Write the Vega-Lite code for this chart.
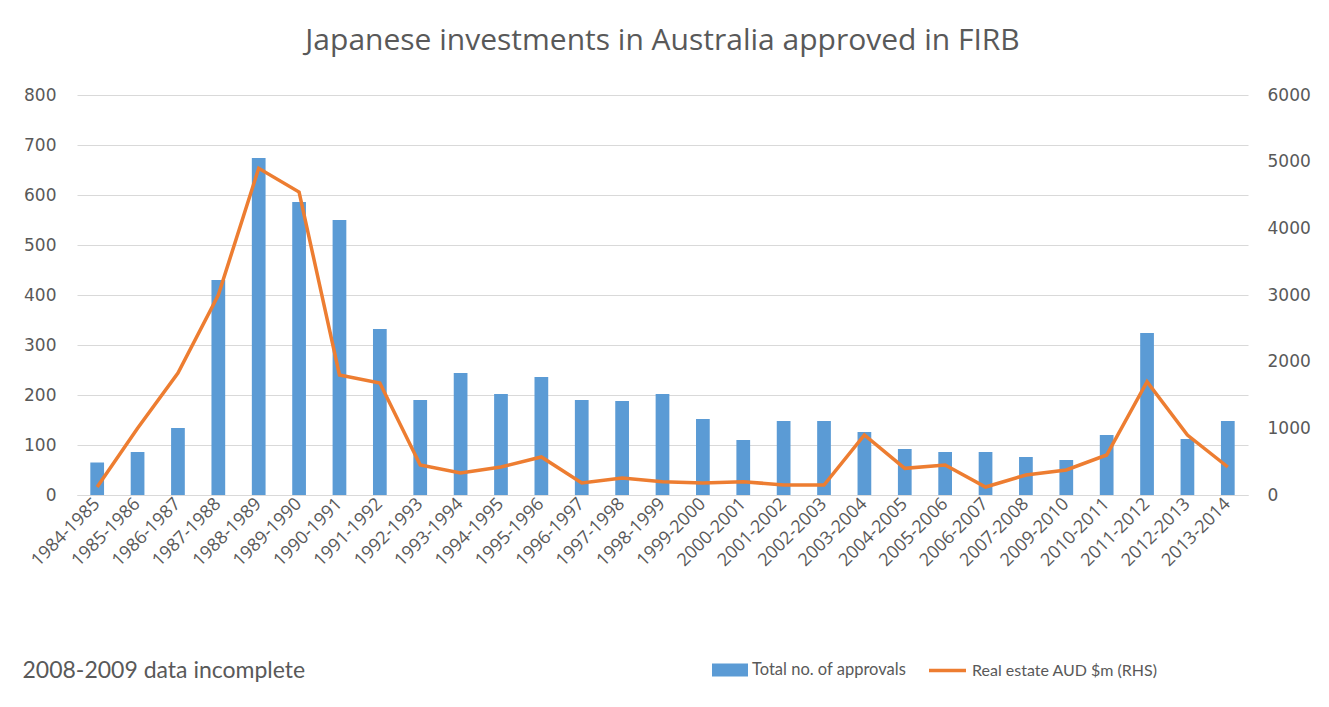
{
  "$schema": "https://vega.github.io/schema/vega-lite/v6.json",
  "autosize": "none",
  "width": 1171,
  "height": 400,
  "padding": {"left": 77, "top": 95, "right": 81, "bottom": 212},
  "background": "white",
  "title": {
    "text": "Japanese investments in Australia approved in FIRB",
    "font": "Open Sans",
    "fontSize": 30,
    "fontWeight": "normal",
    "color": "#595959",
    "anchor": "middle",
    "baseline": "alphabetic",
    "offset": 6
  },
  "config": {
    "view": {"stroke": null},
    "axis": {
      "labelFont": "DejaVu Sans",
      "labelColor": "#595959",
      "titleFont": "Lato",
      "titleColor": "#595959"
    },
    "legend": {
      "labelFont": "Lato",
      "labelFontSize": 16.5,
      "labelColor": "#595959",
      "labelLimit": 0
    }
  },
  "data": {
    "values": [
      {"period": "1984-1985", "approvals": 65, "realestate": 120},
      {"period": "1985-1986", "approvals": 86, "realestate": 1000},
      {"period": "1986-1987", "approvals": 134, "realestate": 1830},
      {"period": "1987-1988", "approvals": 430, "realestate": 3000},
      {"period": "1988-1989", "approvals": 674, "realestate": 4900},
      {"period": "1989-1990", "approvals": 586, "realestate": 4545},
      {"period": "1990-1991", "approvals": 550, "realestate": 1800},
      {"period": "1991-1992", "approvals": 332, "realestate": 1680},
      {"period": "1992-1993", "approvals": 190, "realestate": 450},
      {"period": "1993-1994", "approvals": 244, "realestate": 330},
      {"period": "1994-1995", "approvals": 202, "realestate": 420},
      {"period": "1995-1996", "approvals": 236, "realestate": 570},
      {"period": "1996-1997", "approvals": 190, "realestate": 180},
      {"period": "1997-1998", "approvals": 188, "realestate": 255},
      {"period": "1998-1999", "approvals": 202, "realestate": 200},
      {"period": "1999-2000", "approvals": 152, "realestate": 180},
      {"period": "2000-2001", "approvals": 110, "realestate": 200},
      {"period": "2001-2002", "approvals": 148, "realestate": 150},
      {"period": "2002-2003", "approvals": 148, "realestate": 150},
      {"period": "2003-2004", "approvals": 126, "realestate": 900},
      {"period": "2004-2005", "approvals": 92, "realestate": 400},
      {"period": "2005-2006", "approvals": 86, "realestate": 450},
      {"period": "2006-2007", "approvals": 86, "realestate": 120},
      {"period": "2007-2008", "approvals": 76, "realestate": 300},
      {"period": "2009-2010", "approvals": 70, "realestate": 375},
      {"period": "2010-2011", "approvals": 120, "realestate": 600},
      {"period": "2011-2012", "approvals": 324, "realestate": 1700},
      {"period": "2012-2013", "approvals": 112, "realestate": 900},
      {"period": "2013-2014", "approvals": 148, "realestate": 420}
    ]
  },
  "encoding": {
    "x": {
      "field": "period",
      "type": "nominal",
      "sort": null,
      "scale": {"paddingInner": 0.66, "paddingOuter": 0.33},
      "axis": {
        "title": "2008-2009 data incomplete",
        "titleAnchor": "start",
        "titleAlign": "left",
        "titleBaseline": "alphabetic",
        "titleX": -55,
        "titleY": 182,
        "titleFontSize": 23,
        "titleFontWeight": "normal",
        "labelFont": "Open Sans",
        "labelAngle": -45,
        "labelAlign": "right",
        "labelBaseline": "middle",
        "labelFontSize": 18,
        "labelPadding": 6,
        "ticks": false,
        "domain": true,
        "domainColor": "#d9d9d9",
        "grid": false
      }
    }
  },
  "layer": [
    {
      "mark": {"type": "bar"},
      "encoding": {
        "y": {
          "field": "approvals",
          "type": "quantitative",
          "scale": {"domain": [0, 800]},
          "axis": {
            "orient": "left",
            "title": null,
            "values": [0, 100, 200, 300, 400, 500, 600, 700, 800],
            "labelFontSize": 17,
            "labelPadding": 21,
            "ticks": false,
            "domain": false,
            "grid": true,
            "gridColor": "#d9d9d9",
            "gridWidth": 1
          }
        },
        "fill": {
          "datum": "Total no. of approvals",
          "type": "nominal",
          "scale": {"range": ["#5b9bd5"]},
          "legend": {
            "title": null,
            "orient": "none",
            "legendX": 638,
            "legendY": 560,
            "symbolType": "M-1.2,-0.43H1.2V0.43H-1.2Z",
            "symbolSize": 900,
            "symbolOpacity": 1,
            "symbolStrokeWidth": 0,
            "labelOffset": 7
          }
        }
      }
    },
    {
      "mark": {"type": "line", "strokeWidth": 3.5, "color": "#ed7d31"},
      "encoding": {
        "y": {
          "field": "realestate",
          "type": "quantitative",
          "scale": {"domain": [0, 6000]},
          "axis": {
            "orient": "right",
            "title": null,
            "format": "d",
            "values": [0, 1000, 2000, 3000, 4000, 5000, 6000],
            "labelFontSize": 17,
            "labelPadding": 19,
            "ticks": false,
            "domain": false,
            "grid": false
          }
        },
        "stroke": {
          "datum": "Real estate AUD $m (RHS)",
          "type": "nominal",
          "scale": {"range": ["#ed7d31"]},
          "legend": {
            "title": null,
            "orient": "none",
            "legendX": 850,
            "legendY": 555,
            "symbolType": "stroke",
            "symbolSize": 1369,
            "symbolStrokeWidth": 3.5,
            "labelOffset": 4,
            "labelFontSize": 16
          }
        }
      }
    }
  ],
  "resolve": {"scale": {"y": "independent", "fill": "independent", "stroke": "independent"}}
}
